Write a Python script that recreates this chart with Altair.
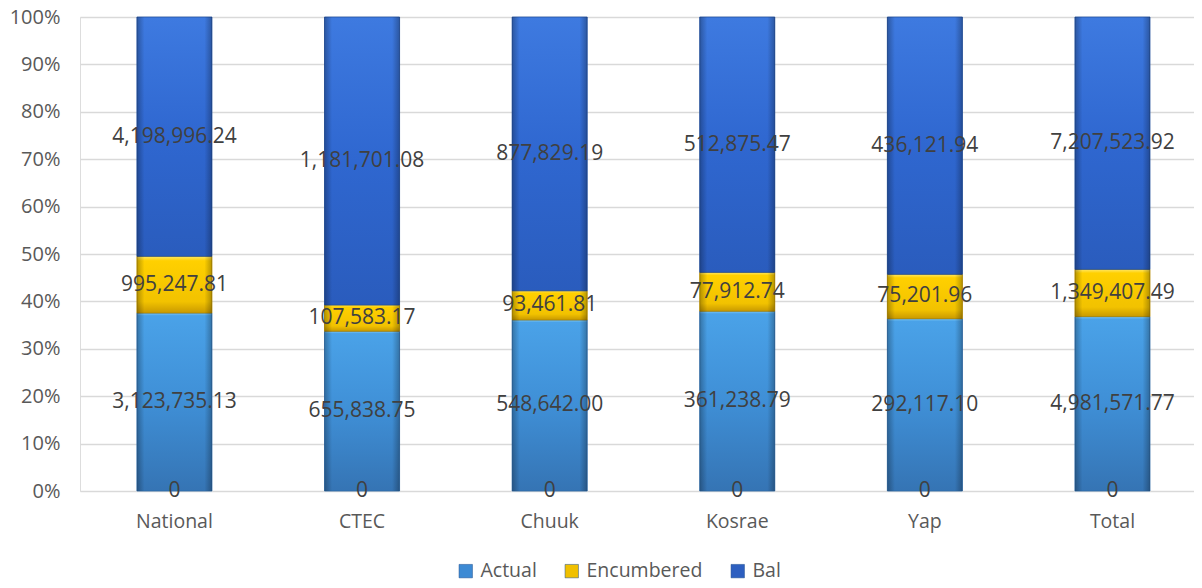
import altair as alt
import pandas as pd

categories = ["National", "CTEC", "Chuuk", "Kosrae", "Yap", "Total"]
series_names = ["Actual", "Encumbered", "Bal"]
actual = [3123735.13, 655838.75, 548642.00, 361238.79, 292117.10, 4981571.77]
encumbered = [995247.81, 107583.17, 93461.81, 77912.74, 75201.96, 1349407.49]
bal = [4198996.24, 1181701.08, 877829.19, 512875.47, 436121.94, 7207523.92]
zero_series = [0, 0, 0, 0, 0, 0]

FONT = "Open Sans"
LABEL_COLOR = "#595959"

rows = []
for i, c in enumerate(categories):
    for o, (s, vals) in enumerate(zip(series_names, [actual, encumbered, bal])):
        rows.append({"cat": c, "series": s, "value": vals[i], "order": o})
df = pd.DataFrame(rows)
zdf = pd.DataFrame({"cat": categories, "z": zero_series})

base = alt.Chart(df).transform_stack(
    stack="value", groupby=["cat"], as_=["v0", "v1"], offset="normalize",
    sort=[alt.SortField("order", order="ascending")]
)

x_enc = alt.X(
    "cat:N", sort=categories,
    scale=alt.Scale(paddingInner=0.6, paddingOuter=0.269, align=0.564),
    axis=alt.Axis(title=None, labelAngle=0, domain=False, ticks=False,
                  labelFont=FONT, labelFontSize=19.5, labelColor=LABEL_COLOR,
                  labelPadding=21),
)
y_enc = alt.Y(
    "v0:Q",
    scale=alt.Scale(domain=[0, 1], nice=False),
    axis=alt.Axis(title=None, format=".0%", values=[i / 10 for i in range(11)],
                  grid=True, gridColor="#d9d9d9", gridWidth=1.3, domain=False, ticks=False,
                  labelFont=FONT, labelFontSize=20, labelColor=LABEL_COLOR,
                  labelPadding=20),
)

legend_layer = base.mark_bar().encode(
    x=x_enc, y=y_enc, y2="v1",
    color=alt.Color(
        "series:N",
        scale=alt.Scale(domain=series_names, range=["#3d8ad4", "#f0c000", "#2d5fc0"]),
        legend=alt.Legend(
            title=None, orient="none", legendX=376, legendY=544, direction="horizontal",
            symbolType="square", symbolSize=180, symbolStrokeColor="#1f4f8f",
            symbolStrokeWidth=0.5, labelFont=FONT, labelFontSize=19.5,
            labelColor=LABEL_COLOR, columnPadding=25, labelOffset=5,
        ),
    ),
)


def vgrad(stops):
    return alt.Gradient(
        gradient="linear", x1=0, y1=0, x2=0, y2=1,
        stops=[alt.GradientStop(color=c, offset=o) for o, c in stops],
    )


fills = {
    "Actual": vgrad([(0, "#7cc8f6"), (0.015, "#4aa2e8"), (0.5, "#3f8fd6"), (1, "#3574b4")]),
    "Encumbered": vgrad([(0, "#ffe766"), (0.08, "#ffd000"), (0.8, "#f2c200"), (1, "#c99a00")]),
    "Bal": vgrad([(0, "#3e7ae0"), (0.5, "#2f67d0"), (1, "#2a5cbd")]),
}
strokes = {"Actual": "#2e6aa6", "Encumbered": "#b58a00", "Bal": "#23509e"}

grad_layers = []
for s in series_names:
    grad_layers.append(
        base.transform_filter(alt.datum.series == s)
        .mark_bar(fill=fills[s], stroke=strokes[s], strokeWidth=0.8)
        .encode(x=x_enc, y=y_enc, y2="v1")
    )

bevel = base.mark_bar(
    fill=alt.Gradient(
        gradient="linear", x1=0, y1=0, x2=1, y2=0,
        stops=[
            alt.GradientStop(color="rgba(0,0,0,0.28)", offset=0),
            alt.GradientStop(color="rgba(0,0,0,0.0)", offset=0.1),
            alt.GradientStop(color="rgba(0,0,0,0.0)", offset=0.9),
            alt.GradientStop(color="rgba(0,0,0,0.28)", offset=1),
        ],
    )
).encode(x=x_enc, y=y_enc, y2="v1")

labels = base.transform_calculate(mid="(datum.v0 + datum.v1) / 2").mark_text(
    font=FONT, fontSize=21, color="#404040", baseline="middle"
).encode(
    x=x_enc,
    y=alt.Y("mid:Q"),
    text=alt.Text("value:Q", format=",.2f"),
)

zeros = alt.Chart(zdf).mark_text(
    font=FONT, fontSize=21, color="#404040", baseline="middle"
).encode(
    x=x_enc,
    y=alt.Y("z:Q"),
    text=alt.Text("z:Q", format="d"),
)

chart = alt.layer(legend_layer, *grad_layers, bevel, labels, zeros).properties(
    width=1114, height=474,
    autosize=alt.AutoSizeParams(type="none"),
    padding={"left": 72, "top": 9, "right": 0, "bottom": 89},
).configure_view(stroke=None).configure(background="white")

chart.save("out.html", embed_options={"renderer": "svg", "actions": False})
